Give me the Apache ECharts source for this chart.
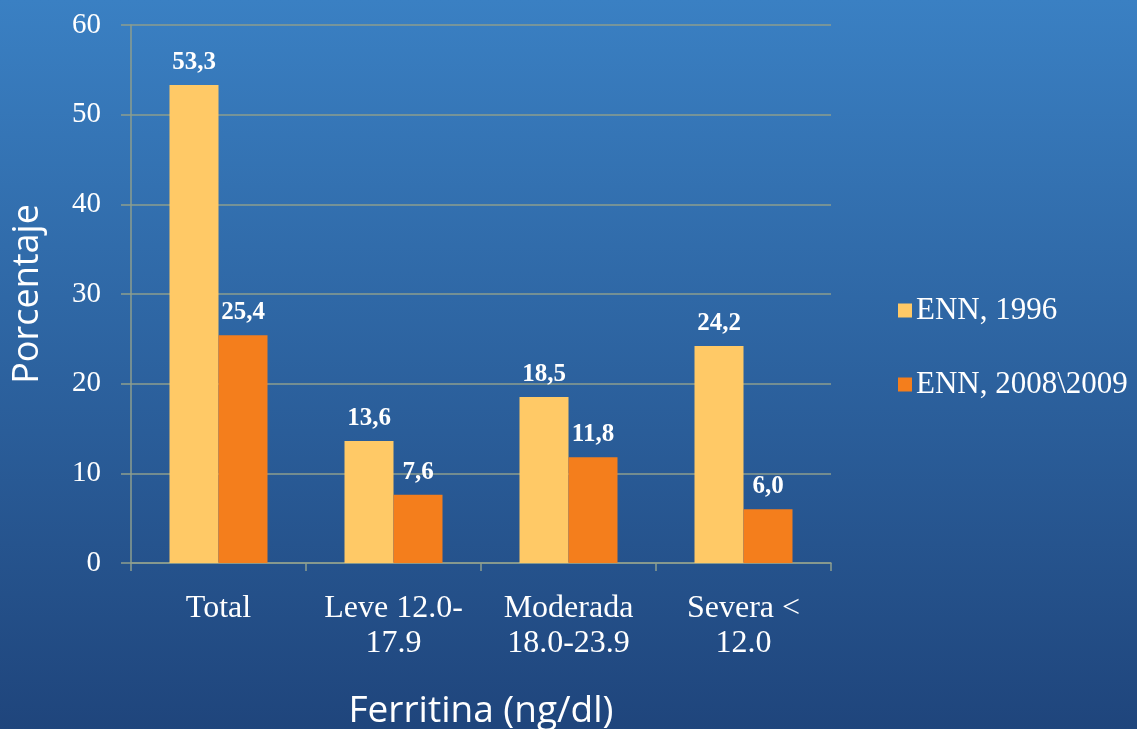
<!DOCTYPE html>
<html>
<head>
<meta charset="utf-8">
<script src="https://cdn.jsdelivr.net/npm/echarts@6/dist/echarts.min.js"></script>
<style>
html,body{margin:0;padding:0;width:1137px;height:729px;overflow:hidden;}
#c{width:1137px;height:729px;}
</style>
</head>
<body>
<div id="c"></div>
<script>
var categories = ['Total', 'Leve 12.0-\n17.9', 'Moderada\n18.0-23.9', 'Severa <\n12.0'];
var seriesNames = ['ENN, 1996', 'ENN, 2008\\2009'];
var values1996 = [53.3, 13.6, 18.5, 24.2];
var values2008 = [25.4, 7.6, 11.8, 6.0];
var yTicks = {min: 0, max: 60, interval: 10};

var chart = echarts.init(document.getElementById('c'));
var gridColor = '#8d9e8e';
function fmt(p){ return p.value.toFixed(1).replace('.', ','); }
var labelStyle = {
  show: true, position: 'top', distance: 10, formatter: fmt,
  color: '#ffffff', fontFamily: 'Liberation Serif', fontWeight: 'bold', fontSize: 25
};
chart.setOption({
  backgroundColor: {
    type: 'linear', x: 0, y: 0, x2: 0, y2: 1,
    colorStops: [{offset: 0, color: '#3a80c3'}, {offset: 1, color: '#1f457c'}]
  },
  animation: false,
  grid: {left: 131, right: 306, top: 25, bottom: 166, containLabel: false, outerBoundsMode: 'none'},
  legend: {
    orient: 'vertical', left: 893, top: 290, itemWidth: 14, itemHeight: 14, itemGap: 43,
    icon: 'rect',
    textStyle: {color: '#ffffff', fontFamily: 'Liberation Serif', fontSize: 31, padding: [0, 0, 0, -1]},
    data: seriesNames
  },
  xAxis: {
    type: 'category', data: categories,
    axisLine: {lineStyle: {color: gridColor, width: 1.5}},
    axisTick: {show: true, interval: 0, length: 8, lineStyle: {color: gridColor, width: 1.5}},
    axisLabel: {interval: 0, hideOverlap: false, color: '#ffffff', fontFamily: 'Liberation Serif', fontSize: 32, lineHeight: 35, margin: 28},
    name: 'Ferritina (ng/dl)', nameLocation: 'middle', nameGap: 130,
    nameTextStyle: {color: '#ffffff', fontFamily: 'Open Sans', fontSize: 37}
  },
  yAxis: {
    type: 'value', min: yTicks.min, max: yTicks.max, interval: yTicks.interval,
    axisLine: {show: true, lineStyle: {color: gridColor, width: 1.5}},
    axisTick: {show: true, length: 10, lineStyle: {color: gridColor, width: 1.5}},
    splitLine: {show: true, lineStyle: {color: gridColor, width: 1.5}},
    axisLabel: {color: '#ffffff', fontFamily: 'Liberation Serif', fontSize: 29, margin: 30},
    name: 'Porcentaje', nameLocation: 'middle', nameGap: 85,
    nameTextStyle: {color: '#ffffff', fontFamily: 'Open Sans', fontSize: 36}
  },
  series: [
    {name: seriesNames[0], type: 'bar', data: values1996, barWidth: 49, barGap: '0%',
     itemStyle: {color: '#ffc966'}, label: labelStyle},
    {name: seriesNames[1], type: 'bar', data: values2008, barWidth: 49, barGap: '0%',
     itemStyle: {color: '#f47e1c'}, label: labelStyle}
  ]
});
</script>
</body>
</html>
